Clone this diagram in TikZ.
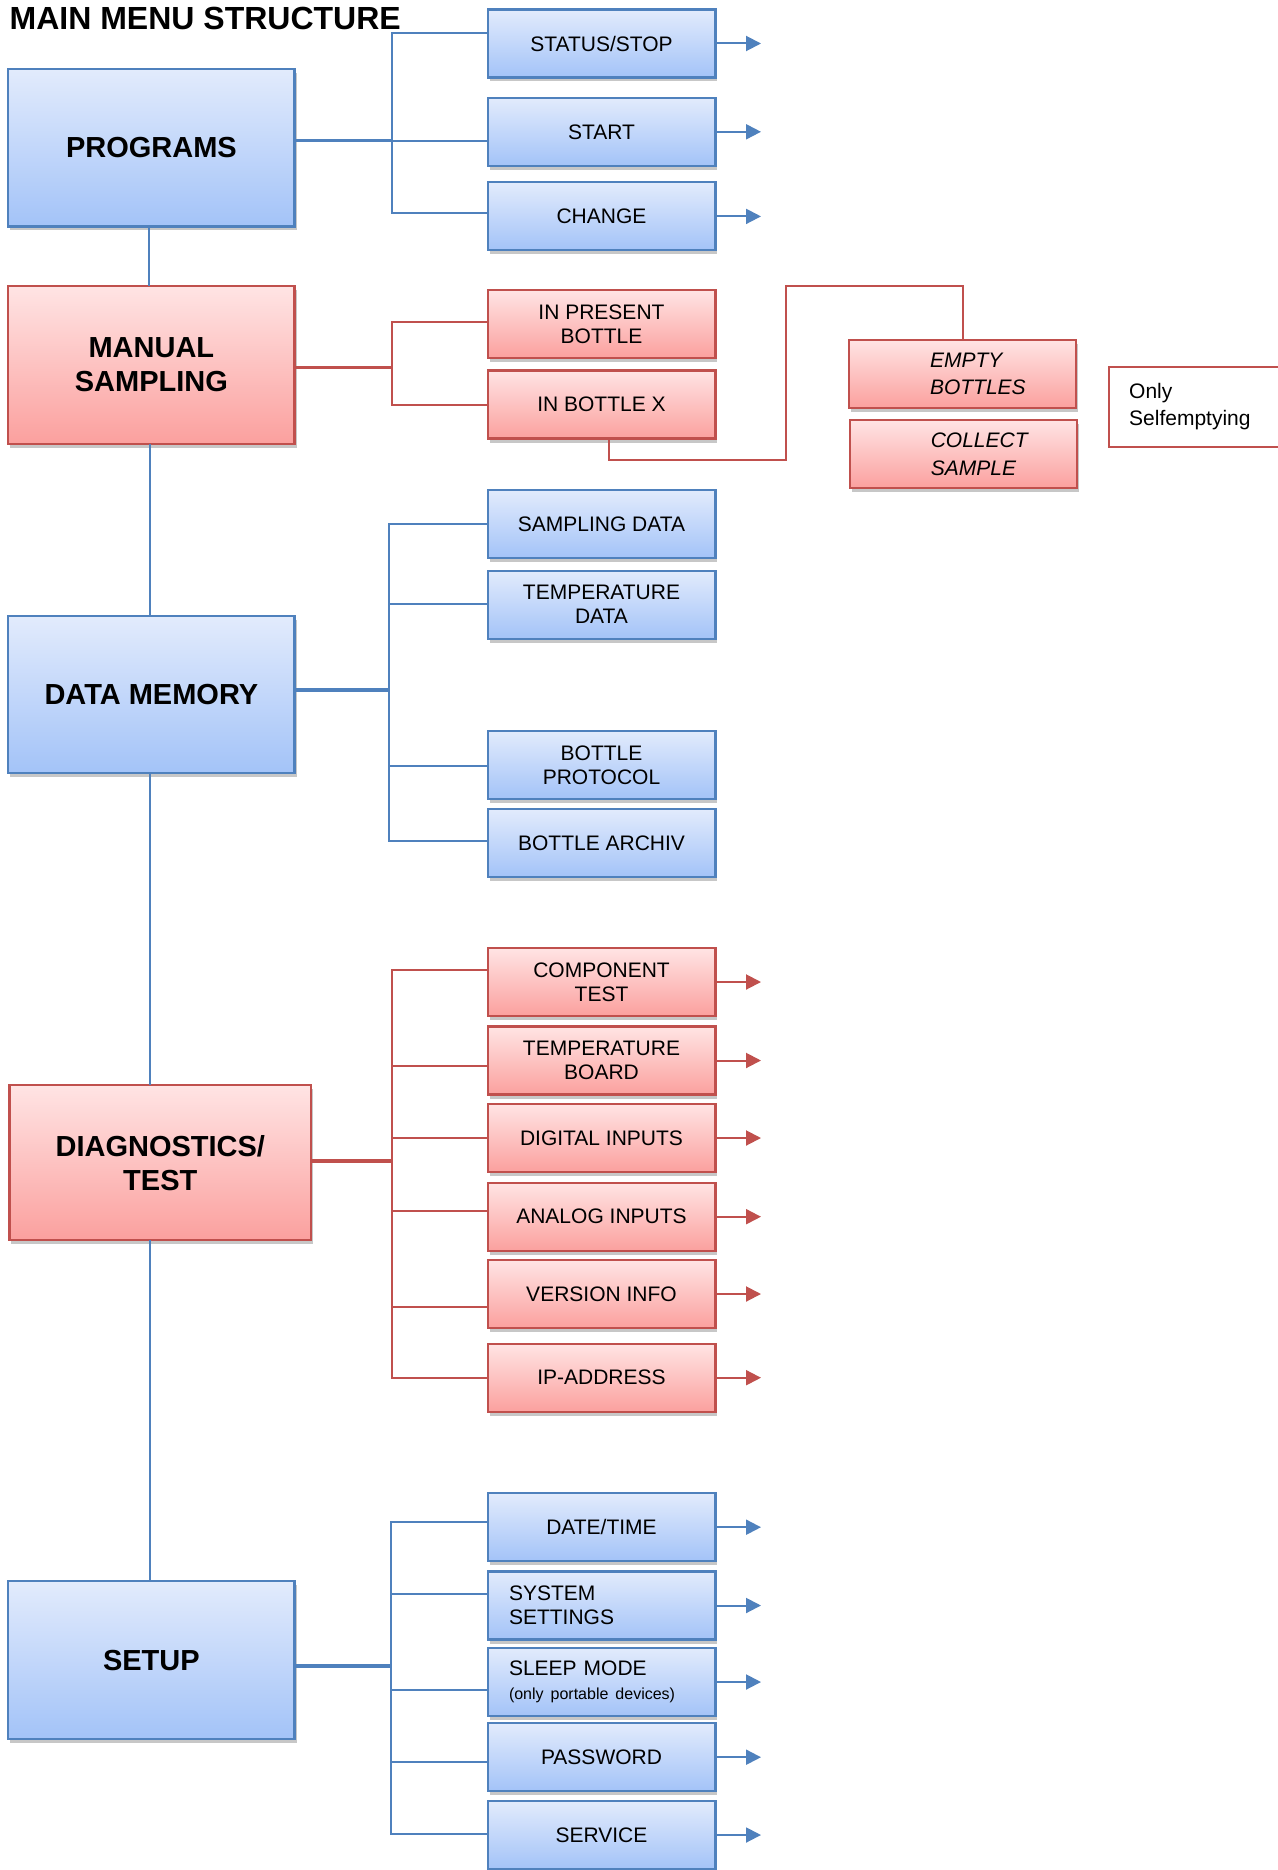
\documentclass[tikz,border=0pt]{standalone}
\usepackage{fontspec}
\setmainfont{Liberation Sans}
\usetikzlibrary{arrows.meta,shadows}
\definecolor{bborder}{RGB}{79,129,189}
\definecolor{btop}{RGB}{226,235,252}
\definecolor{bbot}{RGB}{163,195,248}
\definecolor{rborder}{RGB}{192,80,77}
\definecolor{rtop}{RGB}{255,228,228}
\definecolor{rbot}{RGB}{251,160,158}
\tikzset{
  box/.style={rectangle, inner sep=0pt, outer sep=0pt, line width=2.2pt, align=center,
    drop shadow={shadow xshift=2pt, shadow yshift=-4pt, opacity=0.22, fill=black}},
  bluebox/.style={box, draw=bborder, top color=btop, bottom color=bbot},
  redbox/.style={box, draw=rborder, top color=rtop, bottom color=rbot},
  sub/.style={minimum width=227.8pt, minimum height=68pt, font=\fontsize{21}{24}\selectfont},
  leftsub/.style={sub, text width=227.8pt, align=left},
  itsub/.style={minimum width=227pt, minimum height=68pt, text width=227pt, align=left,
    font=\itshape\fontsize{21}{27.5}\selectfont},
  mainb/.style={minimum width=286.2pt, minimum height=157.3pt, font=\bfseries\fontsize{29}{34}\selectfont},
  bl/.style={draw=bborder, line width=2pt},
  rl/.style={draw=rborder, line width=2pt},
  blm/.style={bl, line width=3.4pt},
  rlm/.style={rl, line width=3.4pt},
  barr/.style={bl, -{Triangle[length=15pt,width=15pt]}},
  rarr/.style={rl, -{Triangle[length=15pt,width=15pt]}}
}
\newcommand{\indA}{\hspace*{81pt}}
\newcommand{\indB}{\hspace*{21.4pt}}
\newcommand{\indC}{\hspace*{20.3pt}}
\begin{document}
\begin{tikzpicture}[x=1pt,y=-1pt]
\fill[white] (0,0) rectangle (1277,1870);
\useasboundingbox (0,0) rectangle (1277,1870);

\node[anchor=base west, inner sep=0pt, font=\bfseries\fontsize{32}{36}\selectfont] (title) at (9.5,29.5) {MAIN MENU STRUCTURE};

% main boxes
\node[bluebox, mainb] (pr) at (151.4,147.8) {PROGRAMS};
\node[redbox, mainb] (ms) at (151.4,365) {MANUAL\\SAMPLING};
\node[bluebox, mainb] (dm) at (151.4,694.5) {DATA MEMORY};
\node[redbox, mainb, minimum width=301.8pt, minimum height=155pt] (dg) at (160.3,1162.8) {DIAGNOSTICS/\\TEST};
\node[bluebox, mainb] (su) at (151.4,1660) {SETUP};

% programs submenu
\node[bluebox, sub] (ss) at (601.5,43.5) {STATUS/STOP};
\node[bluebox, sub] (st) at (601.5,131.8) {START};
\node[bluebox, sub] (ch) at (601.5,216.4) {CHANGE};

% manual sampling submenu
\node[redbox, sub] (ipb) at (601.5,324) {IN PRESENT\\BOTTLE};
\node[redbox, sub] (ibx) at (601.5,404.5) {IN BOTTLE X};
\node[redbox, itsub] (eb) at (962.5,373.8) {\indA EMPTY\\\indA BOTTLES};
\node[redbox, itsub] (cs) at (963.3,454.3) {\indA COLLECT\\\indA SAMPLE};
\node[anchor=north west, inner sep=0pt, minimum height=80pt, text width=200pt, align=left,
  font=\fontsize{21}{27}\selectfont] (only) at (1108.7,366.7) {\indC Only\\\indC Selfemptying};
\draw[rborder, line width=1.8pt] (only.north east) -- (only.north west) -- (only.south west) -- (only.south east);

% data memory submenu
\node[bluebox, sub] (sd) at (601.5,524) {SAMPLING DATA};
\node[bluebox, sub] (td) at (601.5,604.7) {TEMPERATURE\\DATA};
\node[bluebox, sub] (bp) at (601.5,764.8) {BOTTLE\\PROTOCOL};
\node[bluebox, sub] (ba) at (601.5,843) {BOTTLE ARCHIV};

% diagnostics submenu
\node[redbox, sub] (ct) at (601.5,982) {COMPONENT\\TEST};
\node[redbox, sub] (tb) at (601.5,1060.5) {TEMPERATURE\\BOARD};
\node[redbox, sub] (di) at (601.5,1138) {DIGITAL INPUTS};
\node[redbox, sub] (ai) at (601.5,1216.7) {ANALOG INPUTS};
\node[redbox, sub] (vi) at (601.5,1294) {VERSION INFO};
\node[redbox, sub] (ip) at (601.5,1377.7) {IP-ADDRESS};

% setup submenu
\node[bluebox, sub] (dt) at (601.5,1527.2) {DATE/TIME};
\node[bluebox, leftsub] (sys) at (601.5,1605.5) {\indB SYSTEM\\\indB SETTINGS};
\node[bluebox, leftsub] (slp) at (601.5,1682) {\indB SLEEP MODE\\\fontsize{16}{20}\selectfont\indB\mbox{(only portable devices)}};
\node[bluebox, sub] (pw) at (601.5,1757.2) {PASSWORD};
\node[bluebox, sub] (sv) at (601.5,1835) {SERVICE};

% vertical spine
\draw[bl] ([xshift=-2pt]pr.south) -- ([xshift=-2pt]pr.south |- ms.north);
\draw[bl] ([xshift=-1.5pt]ms.south) -- ([xshift=-1.5pt]ms.south |- dm.north);
\draw[bl] ([xshift=-1.5pt]dm.south) -- ([xshift=-1.5pt]dm.south |- dg.north);
\draw[bl] ([xshift=-10.3pt]dg.south) -- ([xshift=-10.3pt]dg.south |- su.north);

% programs connectors
\draw[blm] (pr.east |- 0,140.7) -- (392,140.7);
\draw[bl] (392,140.7) -- (st.west |- 0,140.7);
\draw[bl] (ss.west |- 0,32.7) -| (392,213.4) -- (ch.west |- 0,213.4);
\draw[barr] (ss.east) -- ++(45.6,0);
\draw[barr] (st.east) -- ++(45.6,0);
\draw[barr] (ch.east) -- ++(45.6,0);

% manual sampling connectors
\draw[rlm] (ms.east |- 0,367.3) -- (392,367.3);
\draw[rl] (ipb.west |- 0,321.7) -| (392,405) -- (ibx.west |- 0,405);
\draw[rl] ([xshift=7.5pt]ibx.south) |- (786,460) -- (786,286) -| (eb.north);

% data memory connectors
\draw[blm] (dm.east |- 0,690) -- (389,690);
\draw[bl] (sd.west |- 0,523.7) -| (389,840.7) -- (ba.west |- 0,840.7);
\draw[bl] (389,604) -- (td.west |- 0,604);
\draw[bl] (389,765.7) -- (bp.west |- 0,765.7);

% diagnostics connectors
\draw[rlm] (dg.east |- 0,1161) -- (392,1161);
\draw[rl] (ct.west |- 0,970.3) -| (392,1378.3) -- (ip.west |- 0,1378.3);
\draw[rl] (392,1066) -- (tb.west |- 0,1066);
\draw[rl] (392,1138.3) -- (di.west |- 0,1138.3);
\draw[rl] (392,1210.7) -- (ai.west |- 0,1210.7);
\draw[rl] (392,1306.7) -- (vi.west |- 0,1306.7);
\foreach \n in {ct,tb,di,ai,vi,ip} \draw[rarr] (\n.east) -- ++(45.6,0);

% setup connectors
\draw[blm] (su.east |- 0,1666) -- (391,1666);
\draw[bl] (dt.west |- 0,1522.3) -| (391,1834) -- (sv.west |- 0,1834);
\draw[bl] (391,1594.3) -- (sys.west |- 0,1594.3);
\draw[bl] (391,1690) -- (slp.west |- 0,1690);
\draw[bl] (391,1761.7) -- (pw.west |- 0,1761.7);
\foreach \n in {dt,sys,slp,pw,sv} \draw[barr] (\n.east) -- ++(45.6,0);
\end{tikzpicture}
\end{document}
